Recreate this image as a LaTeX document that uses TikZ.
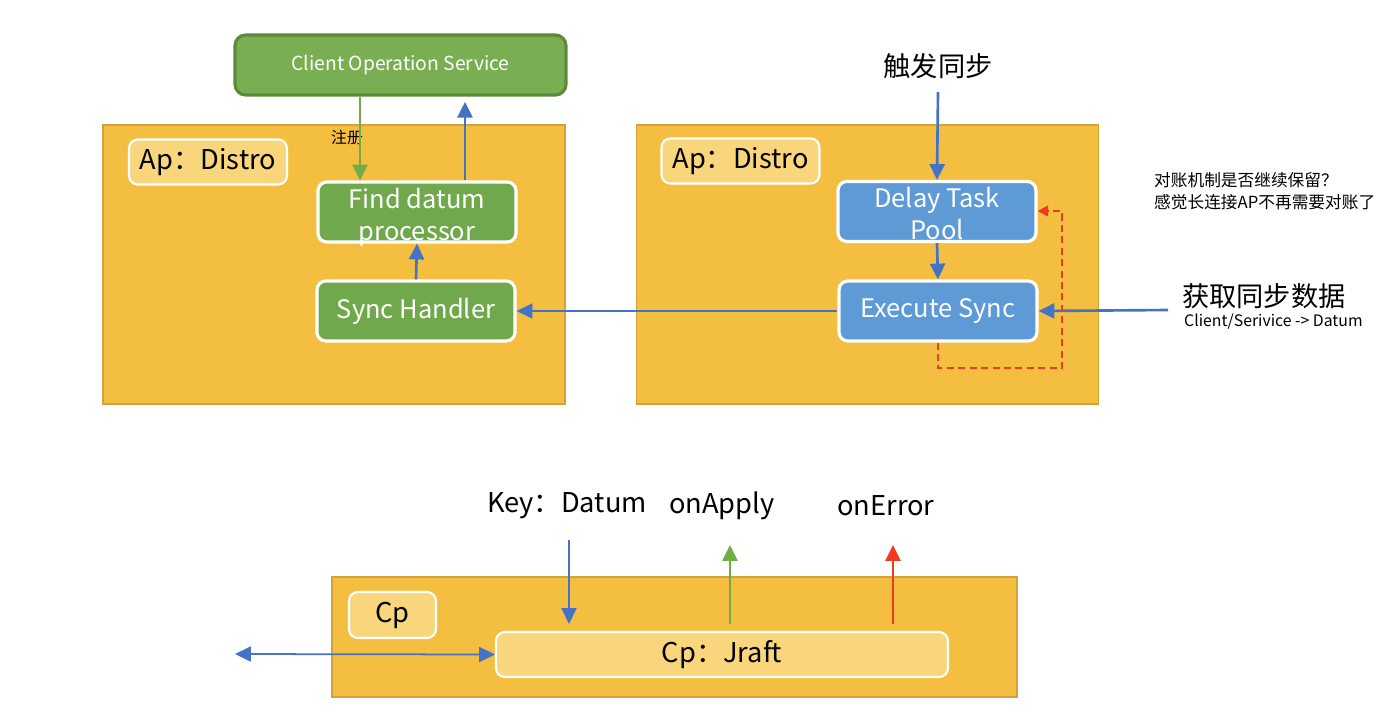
\documentclass[tikz,border=0pt]{standalone}
\usepackage{fontspec}
\setmainfont{Noto Sans CJK SC}
\usetikzlibrary{arrows.meta}

\definecolor{panelfill}{HTML}{F4BE41}
\definecolor{paneledge}{HTML}{D3A23C}
\definecolor{tagfill}{HTML}{F9D67C}
\definecolor{nodegreen}{HTML}{70A94C}
\definecolor{svcgreen}{HTML}{7AAE52}
\definecolor{svcedge}{HTML}{5C8A3A}
\definecolor{nodeblue}{HTML}{5E9AD6}
\definecolor{arrowblue}{HTML}{4472C4}
\definecolor{arrowgreen}{HTML}{70AD47}
\definecolor{arrowred}{HTML}{F03A24}

\newcommand{\bigfont}{\fontsize{15.5}{18.5}\selectfont}
\newcommand{\boxfont}{\fontsize{14.5}{18}\selectfont}
\newcommand{\smallfont}{\fontsize{9.5}{12.5}\selectfont}
\newcommand{\twolines}[2]{\smash{\raisebox{-7pt}{\begin{tabular}{@{}c@{}}#1\\#2\end{tabular}}}}

\tikzstyle{panel} = [rectangle,draw=paneledge,fill=panelfill,line width=0.8pt,minimum width=9.24cm,minimum height=5.58cm]
\tikzstyle{tag} = [rectangle,rounded corners=5pt,draw=white,line width=1.2pt,fill=tagfill,minimum width=3.16cm,minimum height=0.9cm,font=\bigfont]
\tikzstyle{greenbox} = [rectangle,rounded corners=5pt,draw=white,line width=1.8pt,fill=nodegreen,text=white,minimum width=3.96cm,minimum height=1.2cm,inner sep=0pt,font=\boxfont]
\tikzstyle{bluebox} = [greenbox,fill=nodeblue]
\tikzstyle{service} = [rectangle,rounded corners=6pt,draw=svcedge,line width=1.8pt,fill=svcgreen,text=white,minimum width=6.62cm,minimum height=1.2cm,font=\fontsize{11}{13}\selectfont]
\tikzstyle{flow} = [-{Triangle[width=8.5pt,length=9pt]},line width=1.5pt,draw=arrowblue]
\tikzstyle{recheck} = [-{Triangle[width=6pt,length=6pt]},line width=1.3pt,draw=arrowred,dash pattern=on 4pt off 2.5pt]

\begin{document}
\begin{tikzpicture}[x=0.02cm,y=-0.02cm]
		\useasboundingbox (0,0) rectangle (1386,724);

		\node[panel] (left) at (334,264.5) {};
		\node[panel] (right) at (867.5,264.5) {};
		\node[panel,minimum width=13.7cm,minimum height=2.4cm] (cp) at (674.5,637) {};

		\node[service] (svc) at (400.5,65) {Client Operation Service};
		\node[tag] (tagl) at (208,162) {Ap：Distro};
		\node[tag] (tagr) at (740.5,161) {Ap：Distro};
		\node[tag,minimum width=1.74cm,minimum height=0.92cm] (tagcp) at (392.5,615) {Cp};

		\node[greenbox] (fdp) at (417,212) {\twolines{Find datum}{processor}};
		\node[greenbox] (sync) at (416,311) {Sync Handler};
		\node[bluebox] (delay) at (937,211.5) {\twolines{Delay Task}{Pool}};
		\node[bluebox] (exec) at (938,311) {Execute Sync};
		\node[tag,minimum width=9.04cm,minimum height=0.9cm] (jraft) at (722,654.5) {Cp：Jraft};

		\node[font=\fontsize{9}{11}\selectfont] (reg) at (347,138) {注册};
		\node[font=\bigfont] (trig) at (938,66) {触发同步};
		\node[font=\smallfont,anchor=west,align=left] (note) at (1148,191) {对账机制是否继续保留？\\感觉长连接AP不再需要对账了};
		\node[font=\bigfont,anchor=west] (fetch) at (1176,296) {获取同步数据};
		\node[font=\fontsize{9}{11}\selectfont,anchor=west] (fetchsub) at (1178,322) {Client/Serivice -> Datum};
		\node[font=\bigfont] (key) at (567,506) {Key：Datum};
		\node[font=\bigfont] (apply) at (722,506) {onApply};
		\node[font=\bigfont] (err) at (886,506) {onError};

		\coordinate (regx) at (360,0);
		\coordinate (backx) at (465,0);
		\coordinate (trigtail) at (938,92);
		\coordinate (fetchtail) at (1168,310);
		\coordinate (loopb) at (1062,368);
		\coordinate (loopt) at (1062,211);
		\coordinate (keytail) at (569,540);
		\coordinate (applytip) at (730,545);
		\coordinate (errtip) at (893,545);
		\coordinate (cpout) at (235,654);

		% left distro
		\draw[flow,draw=arrowgreen] (svc.south -| regx) -- (fdp.north -| regx);
		\draw[flow,shorten >=3pt] (fdp.north -| backx) -- (svc.south -| backx);
		\draw[flow] (sync.north) -- (fdp.south);
		\draw[flow,line width=1pt] (exec.west) -- (sync.east);

		% right distro
		\draw[flow] (trigtail) -- (delay.north);
		\draw[flow] (delay.south) -- (exec.north);
		\draw[flow] (fetchtail) -- (exec.east);
		\draw[recheck] (exec.south) -- (exec.south |- loopb) -| (loopt) -- (delay.east |- loopt);

		% cp
		\draw[flow,line width=1.2pt,shorten >=4pt] (keytail) -- (jraft.north -| keytail);
		\draw[flow,draw=arrowgreen,shorten <=4pt] (jraft.north -| applytip) -- (applytip);
		\draw[flow,draw=arrowred,shorten <=4pt] (jraft.north -| errtip) -- (errtip);
		\draw[flow,{Triangle[width=8.5pt,length=9pt]}-{Triangle[width=8.5pt,length=9pt]},line width=1pt] (cpout) -- (jraft.west);
\end{tikzpicture}
\end{document}
